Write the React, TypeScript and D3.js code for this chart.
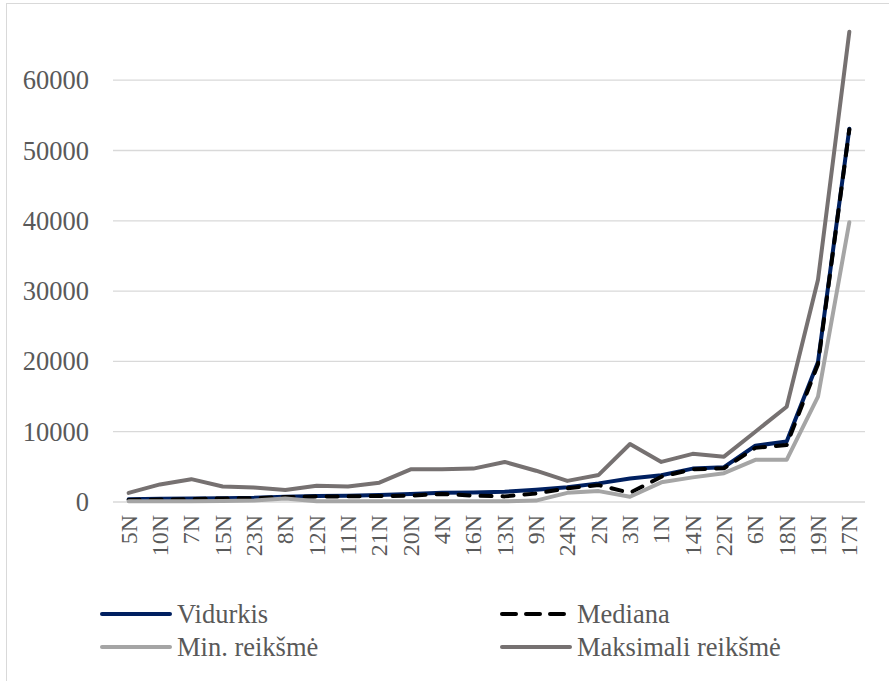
import { useEffect, useRef } from "react";
import * as d3 from "d3";

const categories = ["5N", "10N", "7N", "15N", "23N", "8N", "12N", "11N", "21N", "20N", "4N", "16N", "13N", "9N", "24N", "2N", "3N", "1N", "14N", "22N", "6N", "18N", "19N", "17N"];

const vidurkis = [400, 450, 500, 550, 600, 750, 850, 900, 1000, 1150, 1300, 1350, 1450, 1750, 2100, 2650, 3350, 3800, 4750, 4950, 8000, 8600, 19900, 53100];
const mediana = [300, 350, 400, 500, 550, 700, 800, 800, 850, 900, 1150, 900, 800, 1200, 1950, 2400, 1300, 3600, 4650, 4800, 7700, 8100, 19600, 53000];
const minValues = [100, 100, 100, 150, 200, 500, 100, 100, 100, 100, 100, 100, 100, 200, 1300, 1550, 750, 2800, 3500, 4100, 6000, 6000, 15000, 39800];
const maxValues = [1300, 2500, 3250, 2200, 2050, 1700, 2300, 2200, 2750, 4650, 4650, 4750, 5700, 4450, 3000, 3850, 8250, 5700, 6850, 6450, 10000, 13550, 31600, 66900];

const yTicks = [0, 10000, 20000, 30000, 40000, 50000, 60000];

const series = [
  { name: "Vidurkis", values: vidurkis, color: "#002060", dash: "" },
  { name: "Mediana", values: mediana, color: "#000000", dash: "11 11" },
  { name: "Min. reikšmė", values: minValues, color: "#a5a5a5", dash: "" },
  { name: "Maksimali reikšmė", values: maxValues, color: "#767171", dash: "" },
];

const W = 889;
const H = 681;
const font = "Liberation Serif";

export default function App() {
  const svgRef = useRef<SVGSVGElement | null>(null);

  useEffect(() => {
    if (!svgRef.current) return;
    const svg = d3.select(svgRef.current);
    svg.selectAll("*").remove();

    // chart frame
    svg.append("rect")
      .attr("x", 6.5).attr("y", 3.5)
      .attr("width", W).attr("height", H)
      .attr("fill", "#fff").attr("stroke", "#d9d9d9").attr("stroke-width", 1);

    const x = d3.scalePoint<string>().domain(categories).range([113, 865]).padding(0.5);
    const y = d3.scaleLinear().domain([0, 70000]).range([502, 9.9]);

    // gridlines
    svg.append("g").selectAll("line").data(yTicks).join("line")
      .attr("x1", 113).attr("x2", 865)
      .attr("y1", (d) => y(d)).attr("y2", (d) => y(d))
      .attr("stroke", "#d9d9d9").attr("stroke-width", 1.3);

    // y labels
    svg.append("g").selectAll("text").data(yTicks).join("text")
      .attr("x", 89).attr("y", (d) => y(d))
      .attr("text-anchor", "end").attr("dominant-baseline", "central")
      .attr("font-family", font).attr("font-size", 26.5).attr("fill", "#595959")
      .text((d) => String(d));

    // x labels
    svg.append("g").selectAll("text").data(categories).join("text")
      .attr("transform", (d) => `translate(${x(d)},515) rotate(-90)`)
      .attr("text-anchor", "end").attr("dominant-baseline", "central")
      .attr("font-family", font).attr("font-size", 24).attr("fill", "#595959")
      .text((d) => d);

    const line = d3.line<number>()
      .x((_, i) => x(categories[i]) as number)
      .y((d) => y(d));

    series.forEach((s) => {
      svg.append("path")
        .datum(s.values)
        .attr("d", line)
        .attr("fill", "none")
        .attr("stroke", s.color)
        .attr("stroke-width", 4)
        .attr("stroke-linejoin", "round")
        .attr("stroke-linecap", "round")
        .attr("stroke-dasharray", s.dash || null);
    });

    // legend
    const legendPos = [
      { lx: 100, ty: 614 },
      { lx: 500, ty: 614 },
      { lx: 100, ty: 647 },
      { lx: 500, ty: 647 },
    ];
    series.forEach((s, i) => {
      const p = legendPos[i];
      const g = svg.append("g");
      g.append("line")
        .attr("x1", p.lx + 2).attr("x2", p.lx + 70)
        .attr("y1", p.ty).attr("y2", p.ty)
        .attr("stroke", s.color).attr("stroke-width", 4)
        .attr("stroke-linecap", "round")
        .attr("stroke-dasharray", s.dash ? "14 10" : null);
      g.append("text")
        .attr("x", p.lx + 77).attr("y", p.ty)
        .attr("dominant-baseline", "central")
        .attr("font-family", font).attr("font-size", 26.5).attr("fill", "#595959")
        .text(s.name);
    });
  }, []);

  return (
    <div style={{ position: "absolute", left: 0, top: 0, width: W, height: H, overflow: "hidden" }}>
      <svg ref={svgRef} width={W} height={H} />
    </div>
  );
}
